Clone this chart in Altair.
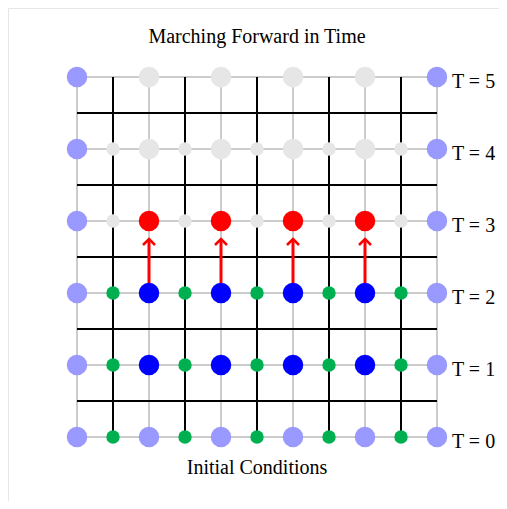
import altair as alt
import pandas as pd

# grid in half-cell units: even = grey (time levels / nodes), odd = black cell lines
grey_pos = [0, 2, 4, 6, 8, 10]
black_pos = [1, 3, 5, 7, 9]
times = [0, 1, 2, 3, 4, 5]
interior_big = [2, 4, 6, 8]
interior_small = [1, 3, 5, 7, 9]
boundary_cols = [0, 10]

big_color = {0: "#9999ff", 1: "#0000ff", 2: "#0000ff", 3: "#ff0000", 4: "#e6e6e6", 5: "#e6e6e6"}
small_color = {0: "#00b050", 1: "#00b050", 2: "#00b050", 3: "#e6e6e6", 4: "#e6e6e6"}
arrow_cols = [2, 4, 6, 8]
arrow_from = 2
arrow_to = 2.75

lines = []
for p in grey_pos:
    lines.append(dict(x=0, x2=10, y=p, y2=p, kind="grey"))
    lines.append(dict(x=p, x2=p, y=0, y2=10, kind="grey"))
for p in black_pos:
    lines.append(dict(x=0, x2=10, y=p, y2=p, kind="black"))
    lines.append(dict(x=p, x2=p, y=0, y2=10, kind="black"))
ldf = pd.DataFrame(lines)

pts = []
for t in times:
    for c in boundary_cols:
        pts.append(dict(x=c, y=2 * t, color="#9999ff", size="big"))
    for c in interior_big:
        pts.append(dict(x=c, y=2 * t, color=big_color[t], size="big"))
    if t in small_color:
        for c in interior_small:
            pts.append(dict(x=c, y=2 * t, color=small_color[t], size="small"))
pdf = pd.DataFrame(pts)

adf = pd.DataFrame([dict(x=c, y=2 * arrow_from, y2=2 * arrow_to) for c in arrow_cols])
ldf_labels = pd.DataFrame([dict(x=10, y=2 * t, label=f"T = {t}") for t in times])

xs = alt.Scale(domain=[0, 10], nice=False, zero=False)
ys = alt.Scale(domain=[0, 10], nice=False, zero=False)
X = lambda f: alt.X(f, type="quantitative", scale=xs, axis=None)
Y = lambda f: alt.Y(f, type="quantitative", scale=ys, axis=None)

one = pd.DataFrame([{"k": 1}])
frame_left = alt.Chart(one).mark_rule(stroke="#e6e6e6", strokeWidth=1).encode(
    x=alt.value(-68.5), y=alt.value(-68.5), y2=alt.value(424))
frame_top = alt.Chart(one).mark_rule(stroke="#e6e6e6", strokeWidth=1).encode(
    x=alt.value(-68.5), x2=alt.value(422), y=alt.value(-68.5))

grey_lines = alt.Chart(ldf).transform_filter(alt.datum.kind == "grey").mark_rule(
    color="#cccccc", strokeWidth=2).encode(x=X("x"), x2="x2", y=Y("y"), y2="y2")
black_lines = alt.Chart(ldf).transform_filter(alt.datum.kind == "black").mark_rule(
    color="#000000", strokeWidth=2).encode(x=X("x"), x2="x2", y=Y("y"), y2="y2")

big = alt.Chart(pdf).transform_filter(alt.datum.size == "big").mark_circle(
    size=420, opacity=1).encode(x=X("x"), y=Y("y"), color=alt.Color("color:N", scale=None))
small = alt.Chart(pdf).transform_filter(alt.datum.size == "small").mark_circle(
    size=180, opacity=1).encode(x=X("x"), y=Y("y"), color=alt.Color("color:N", scale=None))

arrow_shaft = alt.Chart(adf).mark_rule(color="#ff0000", strokeWidth=3).encode(
    x=X("x"), y=Y("y"), y2="y2")
arrow_head = alt.Chart(adf).mark_point(
    shape="M-1,1L0,0L1,1", filled=False, stroke="#ff0000", strokeWidth=2.5,
    size=144, opacity=1).encode(x=X("x"), y=Y("y2"))

labels = alt.Chart(ldf_labels).mark_text(
    align="left", baseline="alphabetic", dx=15, dy=11, font="Liberation Serif", fontSize=20,
    color="#000000").encode(x=X("x"), y=Y("y"), text="label:N")

caption = alt.Chart(pd.DataFrame([dict(x=5, y=0, t="Initial Conditions")])).mark_text(
    align="center", baseline="alphabetic", dy=37, font="Liberation Serif", fontSize=20,
    color="#000000").encode(x=X("x"), y=Y("y"), text="t:N")
title = alt.Chart(pd.DataFrame([dict(x=5, y=10, t="Marching Forward in Time")])).mark_text(
    align="center", baseline="alphabetic", dy=-34, font="Liberation Serif", fontSize=20,
    color="#000000").encode(x=X("x"), y=Y("y"), text="t:N")

chart = alt.layer(frame_left, frame_top, grey_lines, black_lines, arrow_shaft, arrow_head, big, small, labels, caption, title).properties(
    width=360, height=360,
    autosize=alt.AutoSizeParams(type="none"),
    padding={"left": 69, "top": 69, "right": 62, "bottom": 64},
).configure_view(stroke=None)

chart.save("out.html", embed_options={"renderer": "svg", "actions": False})
